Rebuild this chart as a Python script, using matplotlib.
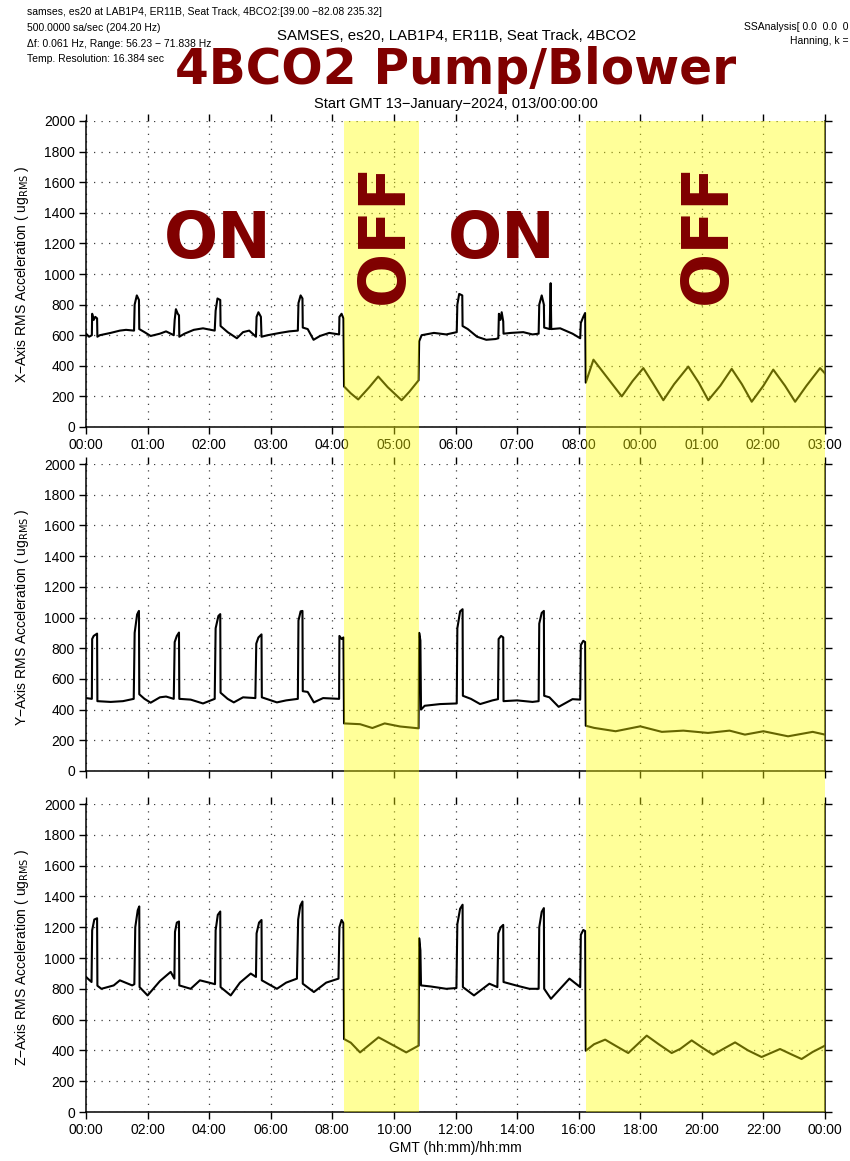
import matplotlib
matplotlib.use("Agg")
import matplotlib.pyplot as plt
from matplotlib.patches import Rectangle
from matplotlib.transforms import blended_transform_factory

plt.rcParams['font.family'] = ['Liberation Sans', 'DejaVu Sans']

# ---------------- data (hours since 00:00, ug_RMS) ----------------
x_t = [0.00, 0.10, 0.19, 0.20, 0.25, 0.30, 0.36, 0.37, 0.45, 0.8, 1.1, 1.3, 1.56, 1.58, 1.65, 1.72, 1.73,
       1.9, 2.1, 2.4, 2.6, 2.85, 2.88, 2.92, 2.98, 3.02, 3.03, 3.2, 3.5, 3.8, 4.18, 4.21, 4.27, 4.36, 4.37,
       4.6, 4.9, 5.1, 5.3, 5.52, 5.54, 5.6, 5.68, 5.70, 5.9, 6.3, 6.6, 6.88, 6.90, 6.97, 7.03, 7.04,
       7.2, 7.39, 7.6, 7.9, 8.22, 8.23, 8.30, 8.36, 8.38, 8.6, 8.84, 9.2, 9.49, 9.8, 10.25, 10.5, 10.80,
       10.82, 10.9, 11.3, 11.7, 12.04, 12.06, 12.12, 12.22, 12.23, 12.4, 12.7, 13.0, 13.3, 13.39, 13.41,
       13.46, 13.5, 13.55, 13.56, 13.8, 14.2, 14.5, 14.70, 14.72, 14.80, 14.87, 14.88, 15.06, 15.09, 15.11,
       15.4, 15.8, 16.05, 16.07, 16.15, 16.21, 16.23, 16.48, 16.9, 17.4, 17.75, 18.1, 18.4, 18.75, 19.1,
       19.56, 19.9, 20.21, 20.6, 20.97, 21.3, 21.62, 22.0, 22.32, 22.7, 23.03, 23.4, 23.84, 24.0]
x_v = [610, 590, 600, 740, 700, 720, 710, 590, 600, 615, 630, 635, 630, 800, 860, 830, 640,
       620, 595, 610, 625, 600, 700, 770, 740, 730, 590, 610, 635, 645, 630, 760, 840, 830, 660,
       620, 580, 620, 630, 590, 720, 750, 720, 590, 600, 615, 625, 630, 810, 860, 840, 650,
       640, 570, 595, 615, 605, 720, 740, 710, 265, 220, 180, 260, 330, 260, 175, 230, 305,
       560, 600, 615, 605, 620, 800, 870, 860, 660, 640, 590, 570, 575, 580, 740,
       700, 750, 690, 610, 615, 620, 605, 610, 800, 860, 800, 650, 640, 940, 640,
       645, 610, 580, 680, 720, 745, 290, 440, 330, 200, 300, 385, 290, 175, 280,
       395, 290, 175, 270, 380, 280, 165, 270, 375, 270, 165, 270, 385, 350]

y_t = [0.0, 0.19, 0.20, 0.25, 0.36, 0.37, 0.8, 1.2, 1.55, 1.58, 1.66, 1.72, 1.73, 1.9, 2.1, 2.4, 2.6,
       2.85, 2.88, 2.95, 3.02, 3.03, 3.4, 3.8, 4.18, 4.21, 4.30, 4.36, 4.37, 4.6, 4.8, 5.1, 5.5, 5.53,
       5.6, 5.70, 5.71, 6.2, 6.5, 6.88, 6.9, 6.97, 7.03, 7.04, 7.2, 7.4, 7.7, 8.22, 8.23, 8.30, 8.36,
       8.38, 8.9, 9.3, 9.7, 10.2, 10.80, 10.82, 10.86, 10.88, 11.0, 11.5, 12.04, 12.06, 12.15, 12.23,
       12.24, 12.5, 12.8, 13.2, 13.38, 13.40, 13.48, 13.55, 13.56, 14.0, 14.5, 14.70, 14.72, 14.80,
       14.87, 14.88, 15.05, 15.35, 15.8, 16.05, 16.07, 16.15, 16.21, 16.23, 16.5, 17.2, 18.0, 18.7,
       19.4, 20.2, 20.9, 21.4, 22.0, 22.8, 23.6, 24.0]
y_v = [475, 470, 860, 880, 895, 455, 450, 455, 470, 900, 1020, 1043, 500, 470, 445, 480, 485,
       470, 840, 880, 902, 470, 465, 440, 470, 930, 1010, 1022, 510, 470, 447, 480, 475, 830,
       870, 890, 480, 447, 460, 470, 980, 1040, 1043, 520, 515, 447, 475, 470, 880, 860, 870,
       310, 305, 280, 310, 290, 278, 900, 850, 400, 425, 436, 440, 930, 1040, 1054,
       490, 470, 436, 460, 468, 860, 880, 870, 455, 460, 450, 455, 960, 1030,
       1043, 490, 480, 418, 468, 465, 820, 848, 840, 295, 281, 259, 291, 255,
       263, 248, 263, 237, 259, 226, 255, 237]

z_t = [0.0, 0.18, 0.20, 0.27, 0.36, 0.37, 0.5, 0.9, 1.1, 1.5, 1.57, 1.60, 1.68, 1.73, 1.74, 2.0,
       2.4, 2.75, 2.87, 2.89, 2.95, 3.02, 3.03, 3.4, 3.7, 4.0, 4.19, 4.21, 4.28, 4.36, 4.37, 4.7,
       5.0, 5.35, 5.52, 5.54, 5.62, 5.70, 5.71, 6.2, 6.5, 6.85, 6.89, 6.96, 7.03, 7.04, 7.4, 7.8,
       8.2, 8.23, 8.30, 8.36, 8.38, 8.6, 8.9, 9.5, 10.1, 10.4, 10.80, 10.82, 10.86, 10.88, 11.2,
       11.7, 12.03, 12.06, 12.15, 12.23, 12.24, 12.6, 13.1, 13.36, 13.39, 13.47, 13.55, 13.56, 14.0,
       14.4, 14.70, 14.72, 14.80, 14.87, 14.88, 15.1, 15.7, 16.05, 16.07, 16.15, 16.21, 16.23, 16.5,
       16.86, 17.2, 17.61, 18.21, 18.6, 19.02, 19.3, 19.67, 20.0, 20.37, 20.7, 21.08, 21.5, 21.94,
       22.54, 22.9, 23.24, 23.6, 24.0]
z_v = [877, 844, 1180, 1250, 1258, 820, 800, 822, 855, 822, 830, 1200, 1310, 1335, 811, 757,
       850, 910, 866, 1170, 1230, 1237, 822, 800, 855, 840, 830, 1180, 1280, 1302, 811, 757,
       840, 899, 877, 1160, 1230, 1247, 855, 800, 840, 866, 1250, 1340, 1367, 833, 779, 840,
       866, 1200, 1247, 1226, 474, 450, 387, 485, 420, 387, 431, 1128, 1050, 822, 815,
       800, 805, 1220, 1320, 1346, 811, 757, 833, 811, 1160, 1200, 1215, 844, 820,
       800, 800, 1200, 1300, 1324, 800, 735, 866, 811, 1150, 1182, 1175, 398, 440,
       470, 430, 383, 496, 440, 383, 410, 465, 420, 372, 410, 452, 400, 357,
       409, 375, 344, 390, 431]

off_spans = [(8.38, 10.81), (16.23, 24.0)]
tick_pos = [0, 2, 4, 6, 8, 10, 12, 14, 16, 18, 20, 22, 24]
top_labels = ["00:00", "01:00", "02:00", "03:00", "04:00", "05:00", "06:00", "07:00", "08:00",
              "00:00", "01:00", "02:00", "03:00"]
bottom_labels = ["00:00", "02:00", "04:00", "06:00", "08:00", "10:00", "12:00", "14:00", "16:00",
                 "18:00", "20:00", "22:00", "00:00"]
y_ticks = list(range(0, 2001, 200))
axis_names = ["X", "Y", "Z"]
state_labels = [("ON", 218, 240, 0), ("OFF", 385, 233, 90), ("ON", 502, 240, 0), ("OFF", 708, 233, 90)]

# ---------------- figure ----------------
W, H = 850, 1161
fig = plt.figure(figsize=(W / 100, H / 100), dpi=100)
dark_red = "#800000"

panels = [(121, 427), (464, 771), (804, 1112)]
series = [(x_t, x_v), (y_t, y_v), (z_t, z_v)]
axes = []
for i, ((ytop, ybot), (tt, vv)) in enumerate(zip(panels, series)):
    ax = fig.add_axes([86 / W, 1 - ybot / H, (825 - 86) / W, (ybot - ytop) / H])
    ax.plot(tt, vv, color="black", lw=1.5)
    ax.set_xlim(0, 24)
    ax.set_ylim(0, 2000)
    ax.set_yticks(y_ticks)
    ax.set_xticks(tick_pos)
    ax.grid(True, linestyle=(0, (1, 5)), color="0.25", lw=0.9)
    ax.tick_params(direction="out", length=5, width=1, top=True, right=True,
                   labelsize=10, pad=3)
    ax.spines["top"].set_visible(False)
    for s in ["left", "bottom", "right"]:
        ax.spines[s].set_linewidth(1.1)
    if i == 0:
        ax.set_xticklabels(top_labels)
    elif i == 1:
        ax.set_xticklabels([])
    else:
        ax.set_xticklabels(bottom_labels)
        ax.set_xlabel("GMT (hh:mm)/hh:mm", fontsize=10, labelpad=3)
    ax.set_ylabel(axis_names[i] + "\u2212Axis RMS Acceleration ( ug$_{\\mathrm{RMS}}$ )",
                  fontsize=10, labelpad=6)
    ax.yaxis.set_label_coords(-0.075, 0.5)
    axes.append(ax)

# yellow OFF shading across all panels (drawn over everything)
trans = blended_transform_factory(axes[2].transData, fig.transFigure)
y0 = 1 - 1112 / H
y1 = 1 - 121 / H
for a, b in off_spans:
    fig.add_artist(Rectangle((a, y0), b - a, y1 - y0, transform=trans,
                             facecolor=(1, 1, 0), alpha=0.4, edgecolor="none", zorder=5))

# header texts
small = 7.5
fig.text(27 / W, 1 - 12 / H, "samses, es20 at LAB1P4, ER11B, Seat Track, 4BCO2:[39.00 \u221282.08 235.32]",
         fontsize=small, va="center", ha="left")
fig.text(27 / W, 1 - 28 / H, "500.0000 sa/sec (204.20 Hz)", fontsize=small, va="center", ha="left")
fig.text(27 / W, 1 - 44 / H, "\u0394f: 0.061 Hz, Range: 56.23 \u2212 71.838 Hz", fontsize=small,
         va="center", ha="left")
fig.text(27 / W, 1 - 59 / H, "Temp. Resolution: 16.384 sec", fontsize=small, va="center", ha="left")
fig.text(848 / W, 1 - 27 / H, "SSAnalysis[ 0.0  0.0  0", fontsize=small, va="center", ha="right")
fig.text(848 / W, 1 - 41 / H, "Hanning, k =", fontsize=small, va="center", ha="right")
fig.text(457 / W, 1 - 36 / H, "SAMSES, es20, LAB1P4, ER11B, Seat Track, 4BCO2", fontsize=10.8,
         va="center", ha="center")
fig.text(456 / W, 1 - 70 / H, "4BCO2 Pump/Blower", fontsize=35, fontweight="bold",
         family="DejaVu Sans", color=dark_red, va="center", ha="center", zorder=10)
fig.text(456 / W, 1 - 104 / H, "Start GMT 13\u2212January\u22122024, 013/00:00:00", fontsize=10.5,
         va="center", ha="center")

for txt, px, py, rot in state_labels:
    fig.text(px / W, 1 - py / H, txt, fontsize=46, fontweight="bold", family="DejaVu Sans",
             color=dark_red, rotation=rot, va="center", ha="center", zorder=10)

fig.savefig("out.png", dpi=100)
